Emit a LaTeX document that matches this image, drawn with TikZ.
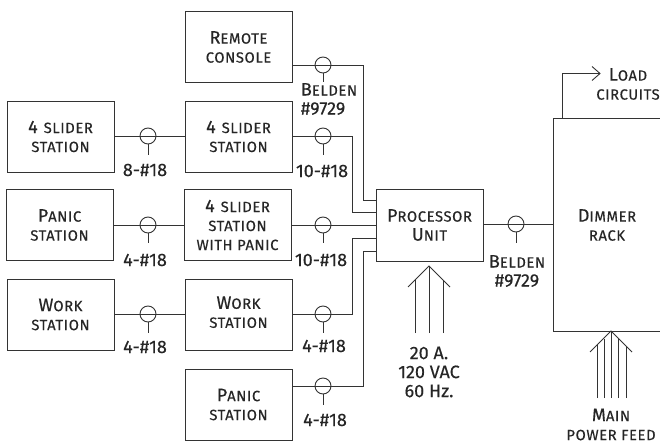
\documentclass[tikz,border=0pt]{standalone}
\usepackage{fontspec}
\setmainfont{Fira Sans}[RawFeature={embolden=0.35}]
\newcommand{\bigc}[1]{{\fontsize{18}{19}\selectfont #1}}
\newcommand{\smc}[1]{{\fontsize{14.8}{19}\selectfont\addfontfeatures{LetterSpace=4}#1}}
\newcommand{\four}{\bigc{4}\hspace{2pt} }
\tikzset{
 wire/.style={draw=black!80,line width=0.9pt,line join=miter},
 boxn/.style={draw=black!80,line width=0.9pt,fill=white,minimum width=107pt,minimum height=71pt,inner sep=0pt,align=center,font=\fontsize{15}{19}\selectfont,text=black!85},
 lab/.style={inner sep=0pt,align=center,text=black!85,font=\fontsize{18}{19}\selectfont},
 tap/.style={circle,draw=black!80,line width=0.9pt,minimum size=16pt,inner sep=0pt},
}
\begin{document}
\begin{tikzpicture}[x=1pt,y=-1pt]
\useasboundingbox (0,0) rectangle (660,441);
\node[boxn] (remote) at (238.5,47) {\bigc{R}\smc{EMOTE}\\\smc{CONSOLE}};
\node[boxn] (sl) at (60.5,136.5) {\four\smc{SLIDER}\\\smc{STATION}};
\node[boxn] (sm) at (238.5,136.5) {\four\smc{SLIDER}\\\smc{STATION}};
\node[boxn] (pl) at (59.5,225) {\bigc{P}\smc{ANIC}\\\smc{STATION}};
\node[boxn] (pm) at (237.5,225) {\four\smc{SLIDER}\\\smc{STATION}\\\smc{WITH PANIC}};
\node[boxn] (wl) at (60.5,314.5) {\bigc{W}\smc{ORK}\\\smc{STATION}};
\node[boxn] (wm) at (238.5,314.5) {\raisebox{3pt}{\begin{tabular}{@{}c@{}}\bigc{W}\smc{ORK}\\\smc{STATION}\end{tabular}}};
\node[boxn] (pb) at (238.5,404.5) {\bigc{P}\smc{ANIC}\\\smc{STATION}};
\node[boxn,minimum height=72pt] (proc) at (429.5,225) {\bigc{P}\smc{ROCESSOR}\\\bigc{U}\smc{NIT}};
\draw[wire] (553,118) rectangle (670,331);
\coordinate (rackw) at (553,224);
\coordinate (rackb) at (611,331);
\coordinate (racka) at (562,118);
\node[lab] (racklab) at (607,225) {\bigc{D}\smc{IMMER}\\\smc{RACK}};
% in-line taps
\foreach \n/\x/\y/\len in {t1/323/65/17,t2/148/136/19,t3/323/136/19,t4/148/225/18,t5/323/225/18,t6/148/314/19,t7/323/314/19,t8/323/386/19,t9/516/224/19}{
 \node[tap] (\n) at (\x,\y) {};
 \coordinate (\n s) at (\x,\y+\len);
 \draw[wire] (\n.south) -- (\n s);
}
\foreach \a/\b in {sl/sm,pl/pm,wl/wm}{\draw[wire] (\a) -- (\b);}
\coordinate (p1) at (376,200);
\coordinate (p2) at (376,212);
\coordinate (p4) at (376,238);
\coordinate (p5) at (376,251);
\draw[wire] (remote.east |- t1) -- (363,65) |- (p1);
\draw[wire] (sm.east |- t3) -- (352,136) |- (p2);
\draw[wire] (pm.east |- t5) -- (proc.west |- t5);
\draw[wire] (wm.east |- t7) -- (352,314) |- (p4);
\draw[wire] (pb.east |- t8) -- (363,386) |- (p5);
\draw[wire] (proc.east |- t9) -- (rackw);
% load arrow
\coordinate (lt) at (600,73.5);
\draw[wire] (racka) -- (562,73.5) -- (lt);
\draw[wire] (592,66.5) -- (lt) -- (592,80.5);
\node[lab] (loadlab) at (628,84) {\bigc{L}\smc{OAD}\\\smc{CIRCUITS}};
% three-phase arrow
\coordinate (ptip) at (429,266);
\coordinate (pa) at (415,333);\coordinate (pb2) at (429,333);\coordinate (pc) at (443,333);
\draw[wire] (408,287) -- (ptip) -- (450,287);
\draw[wire] (pa) -- (415,280);
\draw[wire] (pb2) -- (ptip);
\draw[wire] (pc) -- (443,280);
% main feed arrow
\coordinate (mtip) at (rackb);
\draw[wire] (590,352) -- (mtip) -- (632,352);
\draw[wire] (611,398) -- (mtip);
\draw[wire] (604,398) -- (604,339);
\draw[wire] (618,398) -- (618,339);
\draw[wire] (597,398) -- (597,345);
\draw[wire] (626,398) -- (626,346);
% labels
\node[lab,align=left] (l1) at (329,99) {\bigc{B}\smc{ELDEN}\\\#9729};
\node[lab] (l2) at (145,170) {8-\#18};
\node[lab] (l3) at (322,171) {10-\#18};
\node[lab] (l4) at (145,260) {4-\#18};
\node[lab] (l5) at (321,260) {10-\#18};
\node[lab] (l6) at (145,347) {4-\#18};
\node[lab] (l7) at (324,346) {4-\#18};
\node[lab] (l8) at (325,420) {4-\#18};
\node[lab] (l9) at (517,271) {\bigc{B}\smc{ELDEN}\\\#9729};
\node[lab] (l10) at (429,372) {20 A.\\120 VAC\\60 Hz.};
\node[lab] (l11) at (611,424.5) {\bigc{M}\smc{AIN}\\\smc{POWER FEED}};
\end{tikzpicture}
\end{document}
